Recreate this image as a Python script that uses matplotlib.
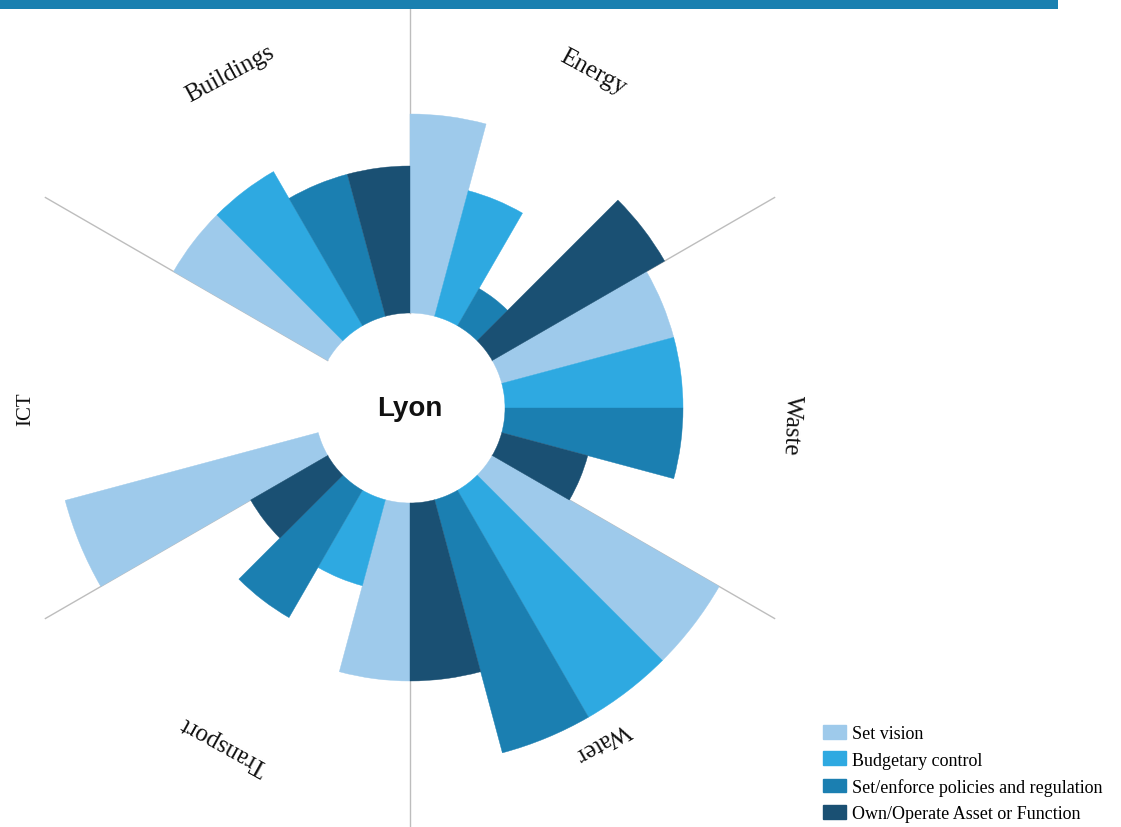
import numpy as np
import matplotlib
matplotlib.use("Agg")
import matplotlib.pyplot as plt
from matplotlib.patches import Patch, Rectangle

# ---- data ----
sectors = ["Energy", "Waste", "Water", "Transport", "ICT", "Buildings"]
roles = ["Set vision", "Budgetary control",
         "Set/enforce policies and regulation", "Own/Operate Asset or Function"]
set_vision = [199, 178, 262, 178, 262, 178]
budgetary = [130, 178, 262, 89, 0, 178]
policies = [43, 178, 262, 147, 0, 147]
own_operate = [199, 89, 178, 89, 0, 147]
city = "Lyon"

colors = ["#9ECAEB", "#2EA9E1", "#1B7FB1", "#1A5073"]
series = [set_vision, budgetary, policies, own_operate]

W, H = 1121, 828
fig = plt.figure(figsize=(W / 100, H / 100), dpi=100)
fig.patch.set_facecolor("white")

cx, cy = 410, 828 - 409   # centre in pixels (from bottom)
R = 430                    # axes radius in pixels
ax = fig.add_axes([(cx - R) / W, (cy - R) / H, 2 * R / W, 2 * R / H],
                  projection="polar")
ax.set_theta_zero_location("N")
ax.set_theta_direction(-1)
ax.set_ylim(0, R)
ax.set_xticks([])
ax.set_yticks([])
ax.grid(False)
ax.spines["polar"].set_visible(False)
ax.set_facecolor("none")

hole = 95
n_sec = len(sectors)
sec_w = 2 * np.pi / n_sec
bar_w = sec_w / len(roles)

# sector separator lines
for k in range(n_sec):
    th = k * sec_w
    ax.plot([th, th], [hole, 421], color="#BDBDBD", lw=1.0, zorder=0.5)

for j, vals in enumerate(series):
    theta = np.arange(n_sec) * sec_w + (j + 0.5) * bar_w
    lws = [0.3 if v > 0 else 0 for v in vals]
    ax.bar(theta, vals, width=bar_w, bottom=hole, color=colors[j],
           edgecolor=colors[j], linewidth=lws, zorder=1)

# sector labels
label_pos = {"Energy": (28.5, 383), "Waste": (92.4, 382), "Water": (150, 385),
             "Transport": (209, 384), "ICT": (270, 384), "Buildings": (331.7, 380)}
for name in sectors:
    ang, rr = label_pos[name]
    fs = 15 if name == "ICT" else 18
    ax.text(np.deg2rad(ang), rr, name, rotation=-ang, rotation_mode="anchor",
            ha="center", va="center", fontsize=fs, family="Liberation Serif",
            color="#111111")

ax.text(0, 0, city, ha="center", va="center", fontsize=20, fontweight="bold",
        family="Liberation Sans", color="#111111")

# top banner
fig.add_artist(Rectangle((0, 1 - 10 / H), 1058 / W, 10 / H,
                         transform=fig.transFigure, color="#1A80B0", lw=0))

handles = [Patch(facecolor=c, edgecolor=c) for c in colors]
fig.legend(handles, roles, loc="upper left",
           bbox_to_anchor=(823 / W, (H - 726) / H), frameon=False,
           prop={"family": "Liberation Serif", "size": 13},
           handlelength=1.28, handleheight=0.78, handletextpad=0.35,
           labelspacing=0.52, borderpad=0, borderaxespad=0)

fig.savefig("out.png", dpi=100)
